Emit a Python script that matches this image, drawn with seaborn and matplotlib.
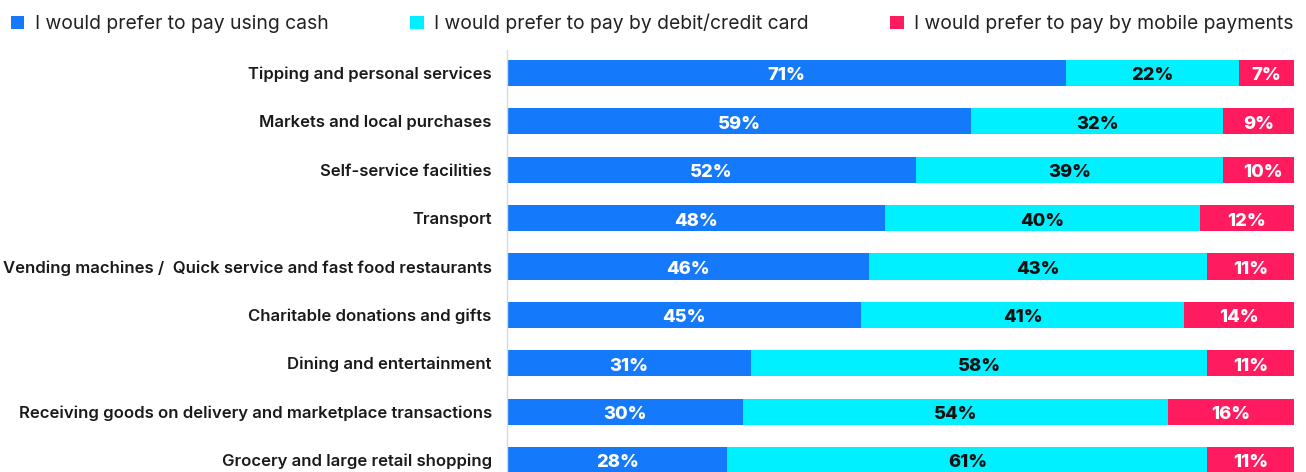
import matplotlib
matplotlib.use("Agg")
import matplotlib.pyplot as plt
from matplotlib.patches import Patch
import seaborn as sns
import pandas as pd
import numpy as np

categories = [
    "Tipping and personal services",
    "Markets and local purchases",
    "Self-service facilities",
    "Transport",
    "Vending machines /  Quick service and fast food restaurants",
    "Charitable donations and gifts",
    "Dining and entertainment",
    "Receiving goods on delivery and marketplace transactions",
    "Grocery and large retail shopping",
]
cash = [71, 59, 52, 48, 46, 45, 31, 30, 28]
card = [22, 32, 39, 40, 43, 41, 58, 54, 61]
mobile = [7, 9, 10, 12, 11, 14, 11, 16, 11]

series_names = [
    "I would prefer to pay using cash",
    "I would prefer to pay by debit/credit card",
    "I would prefer to pay by mobile payments",
]
colors = ["#1479FB", "#00F0FF", "#FF1B5E"]
label_colors = ["white", "#111111", "white"]

sns.set_theme(style="white")
plt.rcParams["font.family"] = ["Inter", "DejaVu Sans"]

df = pd.DataFrame({"category": categories, "cash": cash, "card": card, "mobile": mobile})
df["c1"] = df["cash"]
df["c2"] = df["cash"] + df["card"]
df["c3"] = df["c2"] + df["mobile"]

fig = plt.figure(figsize=(13.06, 4.72), dpi=100)
ax = fig.add_axes([507 / 1306, 0.0, 787 / 1306, 1 - 50 / 472])

bar_h = 0.54
# stacked bars: draw the cumulative totals back to front
for col, color in zip(["c3", "c2", "c1"], colors[::-1]):
    sns.barplot(data=df, x=col, y="category", orient="h", color=color,
                width=bar_h, saturation=1, ax=ax, edgecolor="none")

ax.set_xlim(0, 100)
ax.set_ylim(8.248, -0.475)
ax.set_xlabel("")
ax.set_ylabel("")
ax.set_xticks([])
ax.tick_params(axis="y", length=0, pad=11)
for lbl in ax.get_yticklabels():
    lbl.set_fontsize(12.0)
    lbl.set_fontweight("semibold")
    lbl.set_color("#1a1a1a")

for s in ["top", "right", "bottom"]:
    ax.spines[s].set_visible(False)
ax.spines["left"].set_color("#d9d9d9")
ax.spines["left"].set_linewidth(1.0)

# value labels centred in each segment
starts = [np.zeros(len(cash)), np.array(cash), np.array(cash) + np.array(card)]
for vals, left, tc in zip([cash, card, mobile], starts, label_colors):
    for i, (v, l) in enumerate(zip(vals, left)):
        ax.text(l + v / 2, i + 0.02, f"{v}%", ha="center", va="center_baseline",
                color=tc, fontsize=13.2, fontweight="heavy")

handles = [Patch(facecolor=c, edgecolor="none") for c in colors]
fig.legend(handles, series_names, loc="upper left", ncol=3, mode="expand",
           bbox_to_anchor=(-0.002, 1.0, 1.003, 0.0), frameon=False,
           fontsize=13.9, handlelength=0.7, handleheight=0.7,
           handletextpad=0.55, borderaxespad=0.55, borderpad=0.15,
           labelcolor="#222222")

fig.savefig("out.png", dpi=100)
